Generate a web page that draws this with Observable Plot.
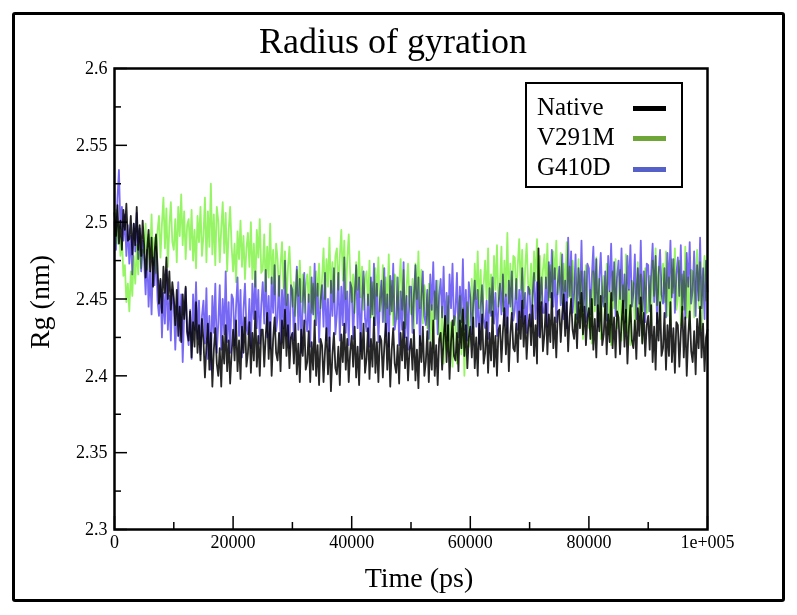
<!DOCTYPE html>
<html>
<head>
<meta charset="utf-8">
<script src="https://cdn.jsdelivr.net/npm/d3@7"></script>
<script src="https://cdn.jsdelivr.net/npm/@observablehq/plot@0.6"></script>
<style>
body{margin:0;background:#fff;}
#wrap{position:relative;width:797px;height:615px;overflow:hidden;font-family:"Liberation Serif","Times New Roman",serif;color:#000;}
#chart{position:absolute;left:0;top:0;}
#frame{position:absolute;left:12px;top:12px;width:773px;height:590px;box-sizing:border-box;border:3px solid #000;border-radius:3px;}
.t{position:absolute;line-height:1;white-space:nowrap;}
#title{left:0;width:786px;text-align:center;top:23px;font-size:36px;}
#xlab{left:319px;width:200px;text-align:center;top:564px;font-size:28px;}
#ylab{left:40px;top:302px;font-size:28px;transform:translate(-50%,-50%) rotate(-90deg);}
#legend{position:absolute;left:525px;top:82px;width:158px;height:106px;box-sizing:border-box;border:2px solid #000;background:#fff;}
.lt{position:absolute;left:10px;font-size:25px;line-height:1;}
.sw{position:absolute;left:106px;width:33px;height:5px;}
</style>
</head>
<body>
<div id="wrap">
  <div id="chart"></div>
  <div id="frame"></div>
  <div class="t" id="title">Radius of gyration</div>
  <div class="t" id="xlab">Time (ps)</div>
  <div class="t" id="ylab">Rg (nm)</div>
  <div id="legend"></div>
</div>
<script>
const seriesNames = ["Native", "V291M", "G410D"];
const lineColors = ["#000000", "#96f564", "#7869f5"];
const legendColors = ["#000000", "#6ea637", "#5560c8"];

// time axis: one frame every 250 ps
const time = d3.range(0, 100001, 250);

const native = [
2.506,2.491,2.511,2.486,2.501,2.482,2.508,2.495,2.512,2.488,
2.489,2.504,2.479,2.499,2.485,2.510,2.482,2.498,2.478,2.501,
2.485,2.464,2.482,2.495,2.468,2.490,2.458,2.480,2.492,2.472,
2.447,2.463,2.441,2.471,2.454,2.477,2.450,2.468,2.443,2.461,
2.451,2.433,2.456,2.426,2.445,2.422,2.453,2.437,2.458,2.429,
2.423,2.442,2.412,2.435,2.419,2.448,2.415,2.433,2.410,2.437,
2.423,2.399,2.419,2.434,2.404,2.428,2.393,2.417,2.431,2.408,
2.400,2.418,2.393,2.426,2.408,2.433,2.403,2.423,2.395,2.415,
2.430,2.410,2.436,2.403,2.423,2.398,2.432,2.415,2.438,2.406,
2.415,2.435,2.402,2.428,2.410,2.442,2.406,2.426,2.400,2.430,
2.430,2.406,2.426,2.441,2.411,2.435,2.400,2.424,2.438,2.415,
2.410,2.428,2.403,2.436,2.418,2.443,2.413,2.433,2.405,2.425,
2.428,2.408,2.434,2.401,2.421,2.396,2.430,2.413,2.436,2.404,
2.409,2.429,2.396,2.422,2.404,2.436,2.400,2.420,2.394,2.424,
2.420,2.396,2.416,2.431,2.401,2.425,2.390,2.414,2.428,2.405,
2.401,2.419,2.394,2.427,2.409,2.434,2.404,2.424,2.396,2.416,
2.426,2.406,2.432,2.399,2.419,2.394,2.428,2.411,2.434,2.402,
2.411,2.431,2.398,2.424,2.406,2.438,2.402,2.422,2.396,2.426,
2.423,2.399,2.419,2.434,2.404,2.428,2.393,2.417,2.431,2.408,
2.402,2.420,2.395,2.428,2.410,2.435,2.405,2.425,2.397,2.417,
2.424,2.404,2.430,2.397,2.417,2.392,2.426,2.409,2.432,2.400,
2.409,2.429,2.396,2.422,2.404,2.436,2.400,2.420,2.394,2.424,
2.428,2.404,2.424,2.439,2.409,2.433,2.398,2.422,2.436,2.413,
2.410,2.428,2.403,2.436,2.418,2.443,2.413,2.433,2.405,2.425,
2.432,2.412,2.438,2.405,2.425,2.400,2.434,2.417,2.440,2.408,
2.415,2.435,2.402,2.428,2.410,2.442,2.406,2.426,2.400,2.430,
2.433,2.409,2.429,2.444,2.414,2.438,2.403,2.427,2.441,2.418,
2.416,2.434,2.409,2.442,2.424,2.449,2.419,2.439,2.411,2.431,
2.440,2.420,2.446,2.413,2.433,2.408,2.483,2.425,2.448,2.416,
2.427,2.447,2.414,2.440,2.422,2.454,2.418,2.438,2.412,2.442,
2.443,2.422,2.440,2.453,2.426,2.448,2.416,2.438,2.450,2.430,
2.424,2.440,2.418,2.448,2.431,2.454,2.427,2.445,2.420,2.438,
2.444,2.424,2.450,2.417,2.437,2.412,2.446,2.429,2.452,2.420,
2.427,2.447,2.414,2.440,2.422,2.454,2.418,2.438,2.412,2.442,
2.438,2.414,2.434,2.449,2.419,2.443,2.408,2.432,2.446,2.423,
2.418,2.436,2.411,2.444,2.426,2.451,2.421,2.441,2.413,2.433,
2.439,2.417,2.446,2.409,2.432,2.404,2.441,2.423,2.448,2.413,
2.418,2.441,2.404,2.433,2.413,2.448,2.409,2.431,2.402,2.435,
2.433,2.406,2.428,2.445,2.412,2.438,2.400,2.426,2.442,2.416,
2.409,2.429,2.401,2.437,2.418,2.445,2.412,2.434,2.403,2.425,
2.430];

const v291m = [
2.492,2.508,2.486,2.500,2.478,2.490,2.465,2.472,2.448,2.460,
2.442,2.468,2.452,2.478,2.460,2.485,2.466,2.490,2.470,2.482,
2.480,2.499,2.469,2.492,2.476,2.505,2.472,2.490,2.467,2.494,
2.504,2.477,2.499,2.516,2.483,2.509,2.471,2.497,2.513,2.487,
2.482,2.502,2.474,2.510,2.491,2.518,2.485,2.507,2.476,2.498,
2.502,2.482,2.508,2.475,2.495,2.470,2.504,2.487,2.510,2.478,
2.491,2.516,2.474,2.507,2.484,2.525,2.479,2.505,2.472,2.510,
2.501,2.474,2.496,2.513,2.480,2.506,2.468,2.494,2.510,2.484,
2.468,2.486,2.461,2.494,2.476,2.501,2.471,2.491,2.463,2.483,
2.493,2.471,2.500,2.463,2.486,2.458,2.495,2.477,2.502,2.467,
2.469,2.492,2.455,2.484,2.464,2.499,2.460,2.482,2.453,2.486,
2.476,2.452,2.472,2.487,2.457,2.481,2.446,2.470,2.484,2.461,
2.445,2.461,2.439,2.469,2.452,2.475,2.448,2.466,2.441,2.459,
2.466,2.448,2.471,2.441,2.460,2.437,2.468,2.452,2.473,2.444,
2.463,2.483,2.450,2.476,2.458,2.490,2.454,2.474,2.448,2.478,
2.483,2.456,2.478,2.495,2.462,2.488,2.450,2.476,2.492,2.466,
2.448,2.466,2.441,2.474,2.456,2.481,2.451,2.471,2.443,2.463,
2.468,2.446,2.475,2.438,2.461,2.433,2.470,2.452,2.477,2.442,
2.449,2.472,2.435,2.464,2.444,2.479,2.440,2.462,2.433,2.466,
2.464,2.437,2.459,2.476,2.443,2.469,2.431,2.457,2.473,2.447,
2.440,2.463,2.431,2.473,2.450,2.481,2.444,2.469,2.434,2.459,
2.453,2.431,2.460,2.423,2.446,2.418,2.455,2.437,2.462,2.427,
2.422,2.445,2.408,2.437,2.417,2.452,2.413,2.435,2.406,2.439,
2.438,2.408,2.433,2.452,2.414,2.444,2.400,2.431,2.448,2.419,
2.440,2.463,2.431,2.473,2.450,2.481,2.444,2.469,2.434,2.459,
2.475,2.450,2.483,2.441,2.466,2.435,2.478,2.456,2.485,2.445,
2.459,2.484,2.442,2.475,2.452,2.493,2.447,2.473,2.440,2.478,
2.477,2.450,2.472,2.489,2.456,2.482,2.444,2.470,2.486,2.460,
2.453,2.473,2.445,2.481,2.462,2.489,2.456,2.478,2.447,2.469,
2.479,2.457,2.486,2.449,2.472,2.444,2.481,2.463,2.488,2.453,
2.460,2.480,2.447,2.473,2.455,2.487,2.451,2.471,2.445,2.475,
2.462,2.432,2.457,2.476,2.438,2.468,2.424,2.455,2.472,2.443,
2.431,2.456,2.421,2.468,2.442,2.477,2.435,2.463,2.424,2.452,
2.465,2.437,2.473,2.427,2.455,2.420,2.468,2.444,2.476,2.431,
2.441,2.469,2.423,2.459,2.434,2.479,2.428,2.456,2.420,2.462,
2.460,2.430,2.455,2.474,2.436,2.466,2.422,2.453,2.470,2.441,
2.442,2.465,2.433,2.475,2.452,2.483,2.446,2.471,2.436,2.461,
2.473,2.448,2.481,2.439,2.464,2.433,2.476,2.454,2.483,2.443,
2.450,2.475,2.433,2.466,2.443,2.484,2.438,2.464,2.431,2.469,
2.468,2.438,2.463,2.482,2.444,2.474,2.430,2.461,2.478,2.449,
2.455];

const g410d = [
2.500,2.482,2.515,2.534,2.496,2.510,2.488,2.505,2.478,2.498,
2.473,2.491,2.466,2.499,2.481,2.506,2.476,2.496,2.468,2.488,
2.475,2.453,2.482,2.445,2.468,2.440,2.477,2.459,2.484,2.449,
2.439,2.462,2.425,2.454,2.434,2.469,2.430,2.452,2.423,2.456,
2.447,2.417,2.442,2.461,2.423,2.453,2.409,2.440,2.457,2.428,
2.420,2.443,2.411,2.453,2.430,2.461,2.424,2.449,2.414,2.439,
2.449,2.421,2.457,2.411,2.439,2.404,2.452,2.428,2.460,2.415,
2.434,2.459,2.417,2.450,2.427,2.468,2.422,2.448,2.415,2.453,
2.450,2.420,2.445,2.464,2.426,2.456,2.412,2.443,2.460,2.431,
2.427,2.450,2.418,2.460,2.437,2.468,2.431,2.456,2.421,2.446,
2.461,2.434,2.469,2.425,2.452,2.418,2.464,2.441,2.472,2.429,
2.438,2.465,2.421,2.456,2.431,2.475,2.426,2.453,2.418,2.459,
2.456,2.423,2.450,2.471,2.430,2.463,2.415,2.448,2.467,2.436,
2.429,2.453,2.419,2.464,2.440,2.473,2.433,2.460,2.422,2.449,
2.459,2.432,2.467,2.423,2.450,2.416,2.462,2.439,2.470,2.427,
2.440,2.467,2.423,2.458,2.433,2.477,2.428,2.455,2.420,2.461,
2.457,2.424,2.451,2.472,2.431,2.464,2.416,2.449,2.468,2.437,
2.429,2.453,2.419,2.464,2.440,2.473,2.433,2.460,2.422,2.449,
2.462,2.435,2.470,2.426,2.453,2.419,2.465,2.442,2.473,2.430,
2.437,2.464,2.420,2.455,2.430,2.474,2.425,2.452,2.417,2.458,
2.458,2.428,2.453,2.472,2.434,2.464,2.420,2.451,2.468,2.439,
2.433,2.456,2.424,2.466,2.443,2.474,2.437,2.462,2.427,2.452,
2.463,2.438,2.471,2.429,2.454,2.423,2.466,2.444,2.473,2.433,
2.442,2.467,2.425,2.458,2.435,2.476,2.430,2.456,2.423,2.461,
2.451,2.427,2.447,2.462,2.432,2.456,2.421,2.445,2.459,2.436,
2.431,2.449,2.424,2.457,2.439,2.464,2.434,2.454,2.426,2.446,
2.460,2.440,2.466,2.433,2.453,2.428,2.462,2.445,2.468,2.436,
2.443,2.463,2.430,2.456,2.438,2.470,2.434,2.454,2.428,2.458,
2.456,2.432,2.452,2.467,2.437,2.461,2.426,2.450,2.464,2.441,
2.441,2.464,2.432,2.474,2.451,2.482,2.445,2.470,2.435,2.460,
2.471,2.446,2.479,2.437,2.462,2.431,2.490,2.452,2.481,2.441,
2.454,2.479,2.437,2.470,2.447,2.488,2.442,2.468,2.435,2.473,
2.470,2.440,2.465,2.484,2.446,2.476,2.432,2.463,2.480,2.451,
2.445,2.468,2.436,2.478,2.455,2.486,2.449,2.474,2.439,2.464,
2.475,2.450,2.483,2.441,2.466,2.435,2.478,2.456,2.485,2.445,
2.454,2.479,2.437,2.470,2.447,2.488,2.442,2.468,2.435,2.473,
2.472,2.442,2.467,2.486,2.448,2.478,2.434,2.465,2.482,2.453,
2.447,2.470,2.438,2.480,2.457,2.488,2.451,2.476,2.441,2.466,
2.477,2.452,2.485,2.443,2.468,2.437,2.480,2.458,2.487,2.447,
2.456,2.481,2.439,2.472,2.449,2.490,2.444,2.470,2.437,2.475,
2.455];

const xTickValues = [0, 20000, 40000, 60000, 80000, 100000];
const xTickLabels = ["0", "20000", "40000", "60000", "80000", "1e+005"];
const xMinorTicks = [10000, 30000, 50000, 70000, 90000];
const yTickValues = [2.3, 2.35, 2.4, 2.45, 2.5, 2.55, 2.6];
const yTickLabels = ["2.3", "2.35", "2.4", "2.45", "2.5", "2.55", "2.6"];
const yMinorTicks = [2.325, 2.375, 2.425, 2.475, 2.525, 2.575];

const seriesValues = [native, v291m, g410d];
const rows = [];
seriesValues.forEach((vals, s) => {
  vals.forEach((v, i) => rows.push({series: seriesNames[s], t: time[i], rg: v}));
});

const lineMark = (s, opacity) => Plot.line(rows.filter(d => d.series === seriesNames[s]), {
  x: "t", y: "rg", stroke: lineColors[s], strokeWidth: 1.8, strokeOpacity: opacity, mixBlendMode: "multiply"
});

const chart = Plot.plot({
  width: 797,
  height: 615,
  marginLeft: 114,
  marginRight: 90,
  marginTop: 68,
  marginBottom: 86,
  style: {background: "transparent", fontFamily: "'Liberation Serif','Times New Roman',serif", color: "#000"},
  x: {domain: [0, 100000]},
  y: {domain: [2.3, 2.6]},
  marks: [
    lineMark(0, 0.85),
    lineMark(1, 1),
    lineMark(2, 1),
    Plot.axisX(xTickValues, {tickSize: 0, tickPadding: 6, fontSize: 18, label: null,
      tickFormat: d => xTickLabels[xTickValues.indexOf(d)]}),
    Plot.axisX(xTickValues, {tickSize: -13, strokeWidth: 1.5, tickFormat: () => "", label: null}),
    Plot.axisX(xMinorTicks, {tickSize: -7, strokeWidth: 1.5, tickFormat: () => "", label: null}),
    Plot.axisY(yTickValues, {tickSize: 0, tickPadding: 7, fontSize: 18, label: null,
      tickFormat: d => yTickLabels[yTickValues.indexOf(d)]}),
    Plot.axisY(yTickValues, {tickSize: -13, strokeWidth: 1.5, tickFormat: () => "", label: null}),
    Plot.axisY(yMinorTicks, {tickSize: -7, strokeWidth: 1.5, tickFormat: () => "", label: null}),
    Plot.frame({stroke: "#000", strokeWidth: 2.5})
  ]
});
document.getElementById("chart").appendChild(chart);

const legend = document.getElementById("legend");
const textTops = [10, 40, 70];
const swatchTops = [22, 52, 83];
seriesNames.forEach((name, i) => {
  const t = document.createElement("div");
  t.className = "lt";
  t.style.top = textTops[i] + "px";
  t.textContent = name;
  legend.appendChild(t);
  const sw = document.createElement("div");
  sw.className = "sw";
  sw.style.top = swatchTops[i] + "px";
  sw.style.background = legendColors[i];
  legend.appendChild(sw);
});
</script>
</body>
</html>
